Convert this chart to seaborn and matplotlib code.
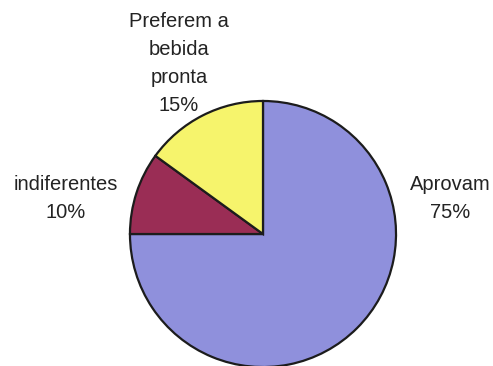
import matplotlib
matplotlib.use("Agg")
import matplotlib.pyplot as plt
import seaborn as sns

sns.set_theme(style="white")
plt.rcParams['font.family'] = ['Liberation Sans', 'DejaVu Sans']

categories = ["Aprovam", "indiferentes", "Preferem a\nbebida\npronta"]
values = [75, 10, 15]
pct_labels = ["75%", "10%", "15%"]
colors = ["#8f90dc", "#9a2d55", "#f6f46c"]

fig = plt.figure(figsize=(4.93, 3.66), dpi=100)
ax = fig.add_axes([0, 0, 1, 1])
wedges, _ = ax.pie(values, colors=colors, startangle=90, counterclock=False,
                   radius=1.0, wedgeprops=dict(edgecolor="#1c1c1c", linewidth=1.6))
ax.set_xlim(-1.977, 1.729)
ax.set_ylim(-0.992, 1.759)
ax.set_aspect("equal")
ax.axis("off")

label_pos = [(1.406, 0.27), (-1.485, 0.27), (-0.632, 1.28)]
for (x, y), cat, pct in zip(label_pos, categories, pct_labels):
    ax.text(x, y, f"{cat}\n{pct}", ha="center", va="center", fontsize=14.5,
            color="#232323", linespacing=1.6)

fig.savefig("out.png", dpi=100)
